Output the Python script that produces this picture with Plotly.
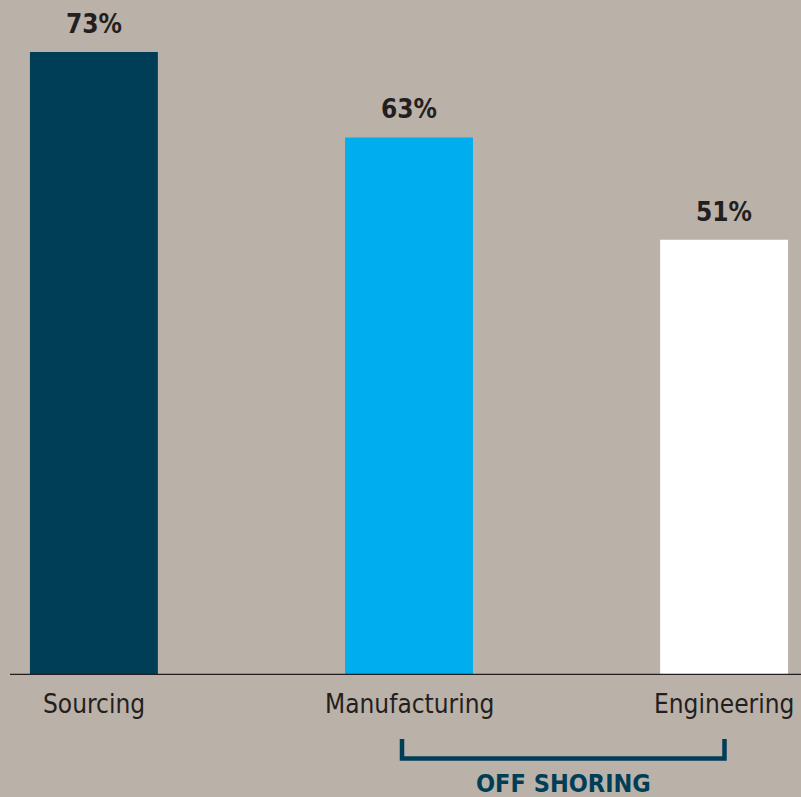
import plotly.graph_objects as go

# Share of respondents by function
categories = ["Sourcing", "Manufacturing", "Engineering"]
values = [73, 63, 51]
bar_colors = ["#003E57", "#00AEEF", "#FFFFFF"]
group_label = "OFF SHORING"

BG = "#BAB1A9"
INK = "#231F20"
TEAL = "#003E57"
FONT = "DejaVu Sans Condensed, Liberation Sans Narrow, sans-serif"

W, H = 801, 797
BOTTOM = 122          # space under the baseline for labels and bracket
PLOT_H = H - BOTTOM
YMAX = 79.1
XMIN, XMAX = -0.298, 2.244

fig = go.Figure()
fig.add_trace(go.Bar(
    x=list(range(len(categories))),
    y=values,
    marker=dict(color=bar_colors, line=dict(width=0)),
    width=0.406,
    hoverinfo="skip",
))

# value labels above bars
for i, v in enumerate(values):
    fig.add_annotation(
        x=i, y=v, xref="x", yref="y",
        text=f"<b>{v}%</b>", showarrow=False,
        yanchor="bottom", yshift=11,
        font=dict(family=FONT, size=26, color=INK),
    )

# category labels under baseline
for i, c in enumerate(categories):
    fig.add_annotation(
        x=i, y=0, xref="x", yref="y",
        text=c, showarrow=False,
        yanchor="middle", yshift=-29,
        font=dict(family=FONT, size=26, color=INK),
    )

# baseline
fig.add_shape(type="line", xref="paper", yref="y",
              x0=10 / W, x1=1, y0=0, y1=0,
              line=dict(color=INK, width=2.5))

# bracket grouping Manufacturing and Engineering
def py(p):
    return (PLOT_H - p) / PLOT_H

bx0, bx1 = 402 / W, 724.5 / W
fig.add_shape(type="path", xref="paper", yref="paper",
              path=f"M {bx0} {py(739)} L {bx0} {py(758.5)} L {bx1} {py(758.5)} L {bx1} {py(739)}",
              line=dict(color=TEAL, width=4.5))
fig.add_annotation(
    x=(bx0 + bx1) / 2, y=py(767), xref="paper", yref="paper",
    text=f"<b>{group_label}</b>", showarrow=False,
    yanchor="top", xanchor="center",
    font=dict(family=FONT, size=25, color=TEAL),
)

fig.update_layout(
    width=W, height=H,
    margin=dict(l=0, r=0, t=0, b=BOTTOM),
    paper_bgcolor=BG, plot_bgcolor=BG,
    showlegend=False,
    xaxis=dict(range=[XMIN, XMAX], visible=False, fixedrange=True),
    yaxis=dict(range=[0, YMAX], visible=False, fixedrange=True),
)

fig.write_html("out.html", config={"displayModeBar": False})
